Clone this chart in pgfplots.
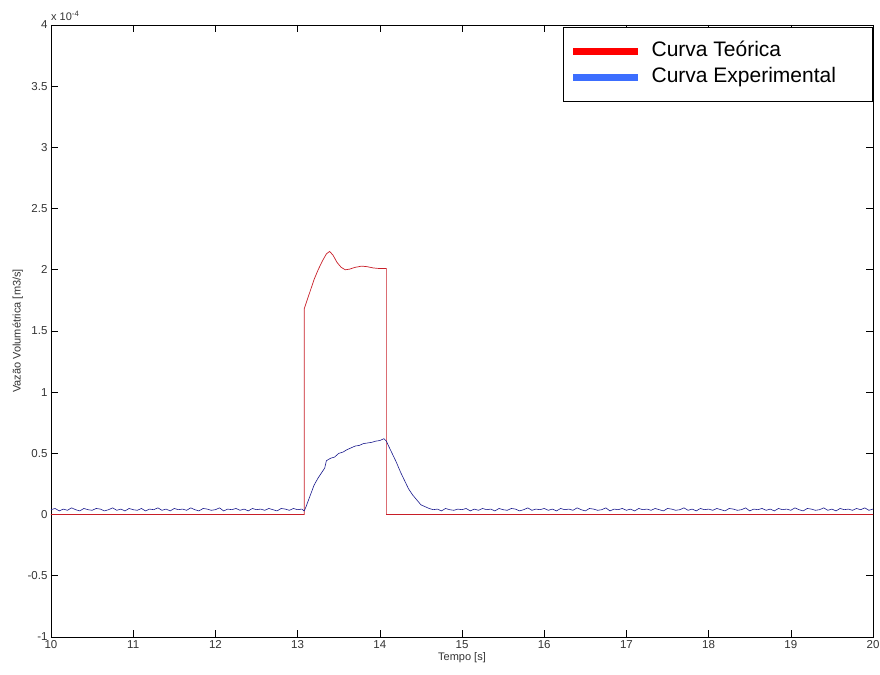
\documentclass[border=0pt]{standalone}
\usepackage{fontspec}
\setmainfont{Liberation Sans}
\usepackage{pgfplots}
\pgfplotsset{compat=1.18}
\definecolor{tred}{RGB}{200,30,40}
\definecolor{eblue}{RGB}{25,25,140}
\definecolor{legred}{RGB}{255,0,0}
\definecolor{legblue}{RGB}{60,110,255}
\begin{document}
\begin{tikzpicture}
\begin{axis}[
  scale only axis, width=822bp, height=612bp,
  xmin=10, xmax=20, ymin=-1, ymax=4,
  clip mode=individual,
  xtick={10,11,12,13,14,15,16,17,18,19,20},
  ytick={-1,-0.5,0,0.5,1,1.5,2,2.5,3,3.5,4},
  yticklabels={-1,-0.5,0,0.5,1,1.5,2,2.5,3,3.5,4},
  tick align=inside, major tick length=7bp,
  xtick pos=both, ytick pos=both,
  axis line style={line width=0.8pt},
  tick style={line width=0.6pt, black},
  /pgf/number format/assume math mode=true,
  ticklabel style={font=\fontsize{11.5bp}{13bp}\selectfont, text=black!80},
  label style={font=\fontsize{11bp}{13bp}\selectfont, text=black!80},
  xlabel={Tempo [s]}, ylabel={Vazão Volumétrica [m3/s]},
  xlabel style={yshift=3bp}, ylabel style={yshift=-2bp},
  legend image code/.code={\draw[#1] (0bp,0bp) -- (65bp,0bp);},
  legend cell align=left,
  legend style={at={(1,1)}, anchor=north east, yshift=-2bp, draw=black, line width=0.8pt,
    font=\fontsize{21bp}{25bp}\selectfont, inner xsep=6bp, inner ysep=13bp, row sep=4bp,
    nodes={inner xsep=10bp, inner ysep=1bp, text height=15bp, text depth=5bp}},
]
\addlegendimage{legred, line width=7bp}
\addlegendentry{\makebox[205bp][l]{Curva Teórica}}
\addlegendimage{legblue, line width=7bp}
\addlegendentry{\makebox[205bp][l]{Curva Experimental}}

\addplot[tred, line width=0.7pt, forget plot] coordinates {
(10,0) (13.08,0) (13.08,1.68) (13.15,1.82) (13.2,1.92) (13.25,2.0) (13.3,2.07)
(13.35,2.13) (13.39,2.15) (13.43,2.12) (13.48,2.06) (13.53,2.02) (13.58,2.0)
(13.63,2.005) (13.7,2.02) (13.78,2.03) (13.85,2.025) (13.92,2.015) (14.0,2.01)
(14.08,2.01) (14.08,0) (20,0)
};

\addplot[eblue, line width=0.6pt, forget plot] coordinates {
(10.00,0.04) (10.05,0.05) (10.10,0.03) (10.15,0.045) (10.20,0.035) (10.25,0.055)
(10.30,0.04) (10.35,0.03) (10.40,0.05) (10.45,0.04) (10.50,0.035) (10.55,0.05)
(10.60,0.045) (10.65,0.03) (10.70,0.04) (10.75,0.055) (10.80,0.035) (10.85,0.045)
(10.90,0.03) (10.95,0.05) (11.00,0.04) (11.05,0.035) (11.10,0.05) (11.15,0.03)
(11.20,0.045) (11.25,0.04) (11.30,0.055) (11.35,0.035) (11.40,0.045) (11.45,0.03)
(11.50,0.05) (11.55,0.04) (11.60,0.045) (11.65,0.035) (11.70,0.055) (11.75,0.04)
(11.80,0.03) (11.85,0.05) (11.90,0.045) (11.95,0.035) (12.00,0.04) (12.05,0.055)
(12.10,0.03) (12.15,0.045) (12.20,0.04) (12.25,0.05) (12.30,0.035) (12.35,0.045)
(12.40,0.03) (12.45,0.05) (12.50,0.04) (12.55,0.045) (12.60,0.035) (12.65,0.05)
(12.70,0.04) (12.75,0.03) (12.80,0.05) (12.85,0.045) (12.90,0.035) (12.95,0.05)
(13.00,0.04) (13.05,0.045) (13.08,0.03) (13.10,0.06) (13.15,0.15) (13.20,0.24)
(13.25,0.30) (13.30,0.35) (13.33,0.38) (13.35,0.44) (13.40,0.46) (13.45,0.47)
(13.50,0.50) (13.55,0.51) (13.60,0.53) (13.65,0.545) (13.70,0.56) (13.75,0.565)
(13.80,0.58) (13.85,0.585) (13.90,0.59) (13.95,0.6) (14.00,0.605) (14.05,0.62)
(14.08,0.60) (14.10,0.57) (14.15,0.50) (14.20,0.43) (14.25,0.35) (14.30,0.28)
(14.35,0.21) (14.40,0.16) (14.45,0.12) (14.50,0.08) (14.55,0.065) (14.60,0.05)
(14.65,0.04) (14.70,0.045) (14.75,0.03) (14.80,0.05) (14.85,0.04) (14.90,0.035)
(14.95,0.045) (15.00,0.04) (15.05,0.05) (15.10,0.03) (15.15,0.045) (15.20,0.035)
(15.25,0.05) (15.30,0.04) (15.35,0.045) (15.40,0.03) (15.45,0.05) (15.50,0.04)
(15.55,0.035) (15.60,0.05) (15.65,0.045) (15.70,0.03) (15.75,0.04) (15.80,0.055)
(15.85,0.035) (15.90,0.045) (15.95,0.04) (16.00,0.05) (16.05,0.035) (16.10,0.045)
(16.15,0.03) (16.20,0.05) (16.25,0.04) (16.30,0.045) (16.35,0.035) (16.40,0.055)
(16.45,0.04) (16.50,0.03) (16.55,0.05) (16.60,0.045) (16.65,0.035) (16.70,0.04)
(16.75,0.055) (16.80,0.03) (16.85,0.045) (16.90,0.04) (16.95,0.05) (17.00,0.035)
(17.05,0.045) (17.10,0.03) (17.15,0.05) (17.20,0.04) (17.25,0.045) (17.30,0.035)
(17.35,0.05) (17.40,0.04) (17.45,0.03) (17.50,0.05) (17.55,0.045) (17.60,0.035)
(17.65,0.04) (17.70,0.055) (17.75,0.035) (17.80,0.045) (17.85,0.03) (17.90,0.05)
(17.95,0.04) (18.00,0.045) (18.05,0.035) (18.10,0.05) (18.15,0.04) (18.20,0.03)
(18.25,0.05) (18.30,0.045) (18.35,0.035) (18.40,0.04) (18.45,0.055) (18.50,0.03)
(18.55,0.045) (18.60,0.04) (18.65,0.05) (18.70,0.035) (18.75,0.045) (18.80,0.03)
(18.85,0.05) (18.90,0.04) (18.95,0.045) (19.00,0.035) (19.05,0.055) (19.10,0.04)
(19.15,0.03) (19.20,0.05) (19.25,0.045) (19.30,0.035) (19.35,0.04) (19.40,0.055)
(19.45,0.035) (19.50,0.045) (19.55,0.03) (19.60,0.05) (19.65,0.04) (19.70,0.045)
(19.75,0.035) (19.80,0.05) (19.85,0.04) (19.90,0.055) (19.95,0.035) (20.00,0.045)
};
\end{axis}
\node[anchor=south west, inner sep=0pt, font=\fontsize{11bp}{13bp}\selectfont, text=black!80]
  at ([shift={(0bp,4bp)}]current axis.north west) {x 10\textsuperscript{-4}};
\pgfresetboundingbox
\path[use as bounding box] ([shift={(-51bp,-38bp)}]current axis.south west)
  rectangle ([shift={(7bp,25bp)}]current axis.north east);
\end{tikzpicture}
\end{document}
